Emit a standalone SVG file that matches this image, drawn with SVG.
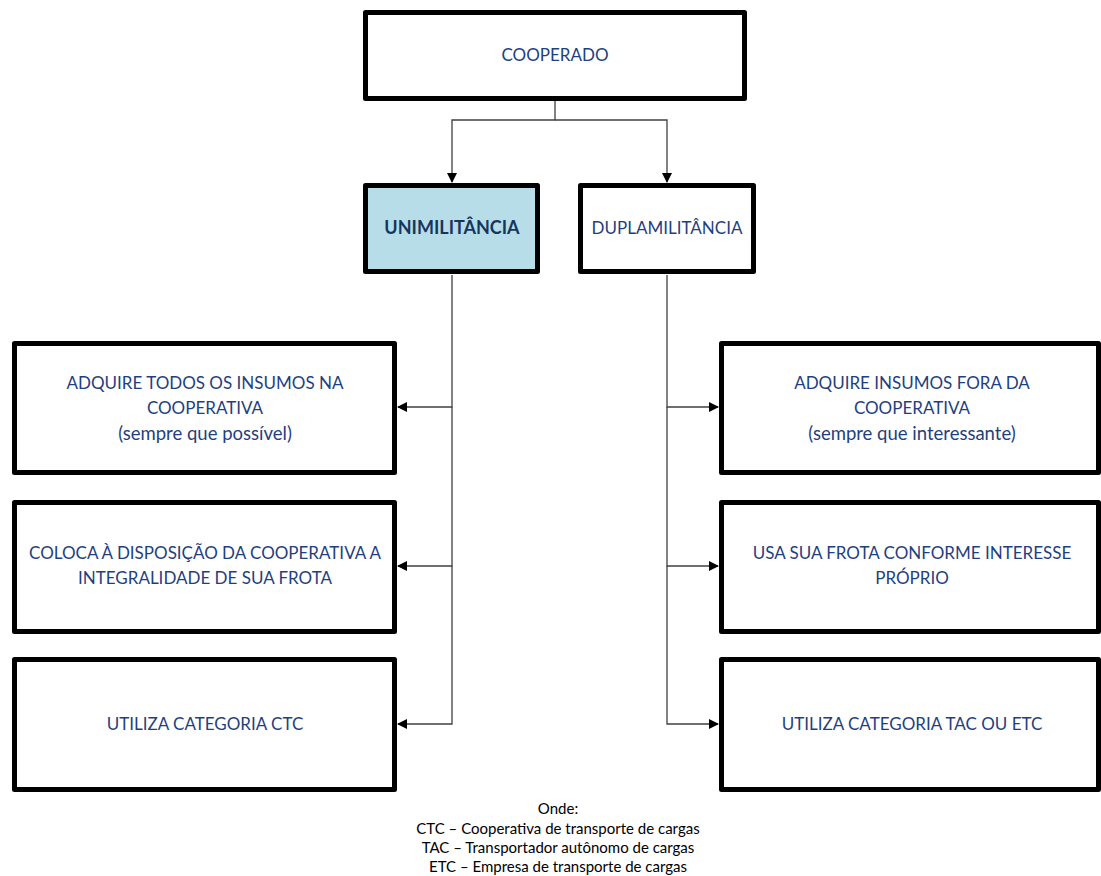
<svg xmlns="http://www.w3.org/2000/svg" width="1101" height="876" viewBox="0 0 1101 876">
<style>
.box{fill:#fff;stroke:#000;stroke-width:5;stroke-linejoin:round}
.hl{fill:#b7dde8}
.t{font-family:Lato,"Liberation Sans",sans-serif;font-size:17px;fill:#1f3f7f;text-anchor:middle}
.s{font-size:18.5px}
.b{font-weight:bold;fill:#17365d;font-size:18px}
.c{fill:none;stroke:#404040;stroke-width:1.3}
.f{font-family:Lato,"Liberation Sans",sans-serif;font-size:15px;fill:#000;text-anchor:middle}
</style>
<defs>
<marker id="ah" markerWidth="10" markerHeight="10" refX="9" refY="5" orient="auto" markerUnits="userSpaceOnUse">
<path d="M0,0 L10,5 L0,10 Z" fill="#000"/>
</marker>
</defs>
<rect width="1101" height="876" fill="#fff"/>
<g id="connectors">
<path class="c" d="M555,100 V120 H452 V182" marker-end="url(#ah)"/>
<path class="c" d="M555,120 H667 V182" marker-end="url(#ah)"/>
<path class="c" d="M452,275 V407 H398" marker-end="url(#ah)"/>
<path class="c" d="M452,407 V566 H398" marker-end="url(#ah)"/>
<path class="c" d="M452,566 V724 H398" marker-end="url(#ah)"/>
<path class="c" d="M667,275 V407 H718" marker-end="url(#ah)"/>
<path class="c" d="M667,407 V566 H718" marker-end="url(#ah)"/>
<path class="c" d="M667,566 V724 H718" marker-end="url(#ah)"/>
</g>
<g id="cooperado">
<rect class="box" x="365.5" y="12.5" width="379" height="86"/>
<text class="t" x="555" y="61">COOPERADO</text>
</g>
<g id="unimilitancia">
<rect class="box hl" x="365.5" y="185.5" width="172" height="86"/>
<text class="t b" x="452" y="234">UNIMILITÂNCIA</text>
</g>
<g id="duplamilitancia">
<rect class="box" x="580.5" y="185.5" width="173" height="86"/>
<text class="t" x="667" y="234">DUPLAMILITÂNCIA</text>
</g>
<g id="l1">
<rect class="box" x="14.5" y="343.5" width="380" height="129"/>
<text class="t" x="205" y="389">ADQUIRE TODOS OS INSUMOS NA</text>
<text class="t" x="205" y="414">COOPERATIVA</text>
<text class="t s" x="205" y="440">(sempre que possível)</text>
</g>
<g id="l2">
<rect class="box" x="14.5" y="502.5" width="380" height="129"/>
<text class="t" x="205" y="559">COLOCA À DISPOSIÇÃO DA COOPERATIVA A</text>
<text class="t" x="205" y="584">INTEGRALIDADE DE SUA FROTA</text>
</g>
<g id="l3">
<rect class="box" x="14.5" y="659.5" width="380" height="130"/>
<text class="t" x="205" y="730">UTILIZA CATEGORIA CTC</text>
</g>
<g id="r1">
<rect class="box" x="721.5" y="343.5" width="377" height="129"/>
<text class="t" x="912" y="389">ADQUIRE INSUMOS FORA DA</text>
<text class="t" x="912" y="414">COOPERATIVA</text>
<text class="t s" x="912" y="440">(sempre que interessante)</text>
</g>
<g id="r2">
<rect class="box" x="721.5" y="502.5" width="377" height="129"/>
<text class="t" x="912" y="559">USA SUA FROTA CONFORME INTERESSE</text>
<text class="t" x="912" y="584">PRÓPRIO</text>
</g>
<g id="r3">
<rect class="box" x="721.5" y="659.5" width="377" height="130"/>
<text class="t" x="912" y="730">UTILIZA CATEGORIA TAC OU ETC</text>
</g>
<g id="legend">
<text class="f" x="558" y="814">Onde:</text>
<text class="f" x="558" y="834">CTC – Cooperativa de transporte de cargas</text>
<text class="f" x="558" y="853">TAC – Transportador autônomo de cargas</text>
<text class="f" x="558" y="872">ETC – Empresa de transporte de cargas</text>
</g>
</svg>
